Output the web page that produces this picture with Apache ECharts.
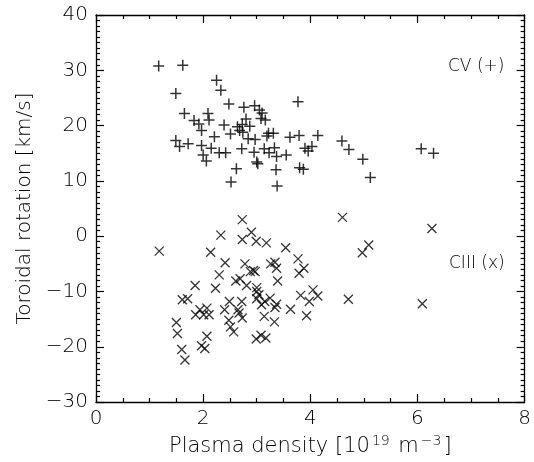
<!DOCTYPE html>
<html>
<head>
<meta charset="utf-8">
<script src="https://cdn.jsdelivr.net/npm/echarts@6/dist/echarts.min.js"></script>
<style>
  html, body { margin: 0; padding: 0; background: #fff; }
  #chart { width: 534px; height: 462px; }
</style>
</head>
<body>
<div id="chart"></div>
<script>
// CV (+) : [density 1e19 m^-3, toroidal rotation km/s]
const cvPoints = [
  [1.17, 30.8], [1.62, 30.9], [2.25, 28.2], [2.33, 26.4], [1.49, 25.8], [3.77, 24.3],
  [2.48, 23.9], [2.76, 23.3], [2.96, 23.6], [3.05, 22.8], [3.10, 22.3], [1.65, 22.2],
  [2.09, 22.2], [3.08, 21.3], [3.16, 21.0], [1.83, 20.9], [2.11, 21.0], [2.80, 21.2],
  [1.92, 20.3], [1.97, 19.1], [2.39, 20.1], [2.64, 19.8], [2.73, 20.2], [2.87, 19.9],
  [2.68, 19.1], [2.74, 18.8], [2.51, 18.5], [3.22, 18.6], [3.31, 18.6], [2.21, 18.0],
  [2.84, 17.6], [2.97, 17.5], [3.19, 18.1], [3.62, 17.9], [3.79, 18.2], [4.14, 18.2],
  [4.59, 17.2], [1.49, 17.3], [1.56, 16.2], [1.72, 16.7], [1.97, 16.4], [2.15, 15.9],
  [2.30, 15.1], [2.42, 15.1], [2.72, 15.8], [2.95, 15.2], [3.14, 15.8], [3.23, 15.1],
  [3.33, 16.0], [3.37, 14.4], [3.55, 14.7], [3.90, 15.9], [3.96, 15.4], [4.03, 16.2],
  [4.72, 15.7], [4.98, 13.9], [6.07, 15.8], [6.30, 15.0], [2.00, 14.7], [2.06, 13.6],
  [2.62, 12.2], [3.00, 13.4], [3.02, 13.1], [3.36, 12.0], [3.80, 12.4], [3.87, 12.1],
  [5.12, 10.6], [2.52, 9.8], [3.38, 9.1]
];

// CIII (x)
const ciiiPoints = [
  [2.73, 3.0], [4.60, 3.4], [2.33, 0.2], [2.90, 0.7], [2.73, -0.6], [2.99, -0.9],
  [3.18, -1.2], [1.18, -2.7], [2.14, -2.9], [3.54, -2.1], [2.41, -4.8], [2.78, -5.0],
  [3.26, -5.0], [3.34, -4.7], [3.37, -5.8], [3.77, -4.1], [3.88, -5.8], [3.79, -6.7],
  [2.30, -7.0], [2.88, -6.4], [2.94, -6.2], [2.97, -6.4], [3.39, -8.1], [1.85, -8.9],
  [2.23, -9.4], [2.61, -8.1], [2.69, -7.7], [2.81, -8.9], [3.00, -9.3], [3.00, -10.0],
  [3.04, -10.6], [3.82, -10.7], [4.05, -9.7], [4.14, -10.8], [3.98, -11.8], [1.61, -11.5],
  [1.71, -11.3], [1.50, -15.6], [1.52, -17.6], [1.60, -20.5], [1.66, -22.4], [1.94, -13.3],
  [2.01, -14.2], [1.86, -14.2], [2.07, -13.0], [2.11, -14.2], [2.07, -18.1], [1.97, -19.8],
  [2.03, -20.3], [2.40, -13.3], [2.49, -11.8], [2.48, -15.2], [2.51, -16.4], [2.57, -17.3],
  [2.65, -13.3], [2.67, -13.9], [2.72, -11.8], [2.73, -14.8], [3.00, -11.3], [3.09, -12.4],
  [3.15, -11.8], [3.14, -14.5], [3.25, -11.2], [3.34, -12.9], [3.37, -12.3], [3.33, -15.5],
  [3.63, -13.2], [3.93, -14.4], [2.99, -18.6], [3.08, -17.9], [3.17, -18.4], [6.27, 1.4],
  [4.97, -3.0], [5.09, -1.6], [4.71, -11.4], [6.09, -12.2]
];

const xRange = [0, 8];
const yRange = [-30, 40];

const FONT = 'DejaVu Sans';
const INK = '#000';

const chart = echarts.init(document.getElementById('chart'));

const plusPath = 'path://M0,5L10,5M5,0L5,10';
const crossPath = 'path://M0,0L10,10M0,10L10,0';

// axis with inside ticks, used for all four sides of the box
function boxAxis(extra, minorSplit) {
  return Object.assign({
    type: 'value',
    axisLine: { show: true, onZero: false, lineStyle: { color: '#000', width: 1.3 } },
    axisTick: { show: true, inside: true, length: 8, lineStyle: { color: '#000', width: 1.2 } },
    minorTick: { show: true, splitNumber: minorSplit, length: 4, lineStyle: { color: '#000', width: 1.2 } },
    splitLine: { show: false }
  }, extra);
}

const option = {
  animation: false,
  grid: { left: 96, right: 5, top: 15, bottom: 53 },
  xAxis: [
    boxAxis({
      min: xRange[0], max: xRange[1], interval: 2, position: 'bottom',
      axisLabel: { margin: 7, color: INK, fontFamily: FONT, fontWeight: 200, fontSize: 20 },
      name: '{t|Plasma density [10}{s|19}{t| m}{s|\u22123}{t|]}',
      nameLocation: 'middle',
      nameGap: 28,
      nameTextStyle: {
        rich: {
          t: { fontFamily: FONT, fontWeight: 200, fontSize: 21, color: INK, verticalAlign: 'bottom', lineHeight: 24 },
          s: { fontFamily: FONT, fontWeight: 200, fontSize: 14, color: INK, verticalAlign: 'bottom', lineHeight: 24, padding: [0, 2, 9, 2] }
        }
      }
    }, 4),
    boxAxis({
      min: xRange[0], max: xRange[1], interval: 2, position: 'top',
      axisLabel: { show: false }
    }, 4)
  ],
  yAxis: [
    boxAxis({
      min: yRange[0], max: yRange[1], interval: 10, position: 'left',
      axisLabel: {
        margin: 8, color: INK, fontFamily: FONT, fontWeight: 200, fontSize: 20,
        formatter: v => (v < 0 ? '\u2212' + Math.abs(v) : String(v))
      },
      name: 'Toroidal rotation [km/s]',
      nameLocation: 'middle',
      nameGap: 60,
      nameTextStyle: { fontFamily: FONT, fontWeight: 200, fontSize: 20, color: INK }
    }, 10),
    boxAxis({
      min: yRange[0], max: yRange[1], interval: 10, position: 'right',
      axisLabel: { show: false }
    }, 10)
  ],
  graphic: [
    {
      type: 'text', left: 448, top: 58,
      style: { text: 'CV (+)', fontFamily: FONT, fontWeight: 200, fontSize: 17, fill: INK }
    },
    {
      type: 'text', left: 449, top: 255,
      style: { text: 'CIII (x)', fontFamily: FONT, fontWeight: 200, fontSize: 17, fill: INK }
    }
  ],
  series: [
    {
      name: 'CV',
      type: 'scatter',
      data: cvPoints,
      symbol: plusPath,
      symbolSize: 11,
      itemStyle: { color: 'rgba(0,0,0,0)', borderColor: '#000', borderWidth: 1.5 }
    },
    {
      name: 'CIII',
      type: 'scatter',
      data: ciiiPoints,
      symbol: crossPath,
      symbolSize: 9,
      itemStyle: { color: 'rgba(0,0,0,0)', borderColor: '#000', borderWidth: 1.3 }
    }
  ]
};

chart.setOption(option);
</script>
</body>
</html>
